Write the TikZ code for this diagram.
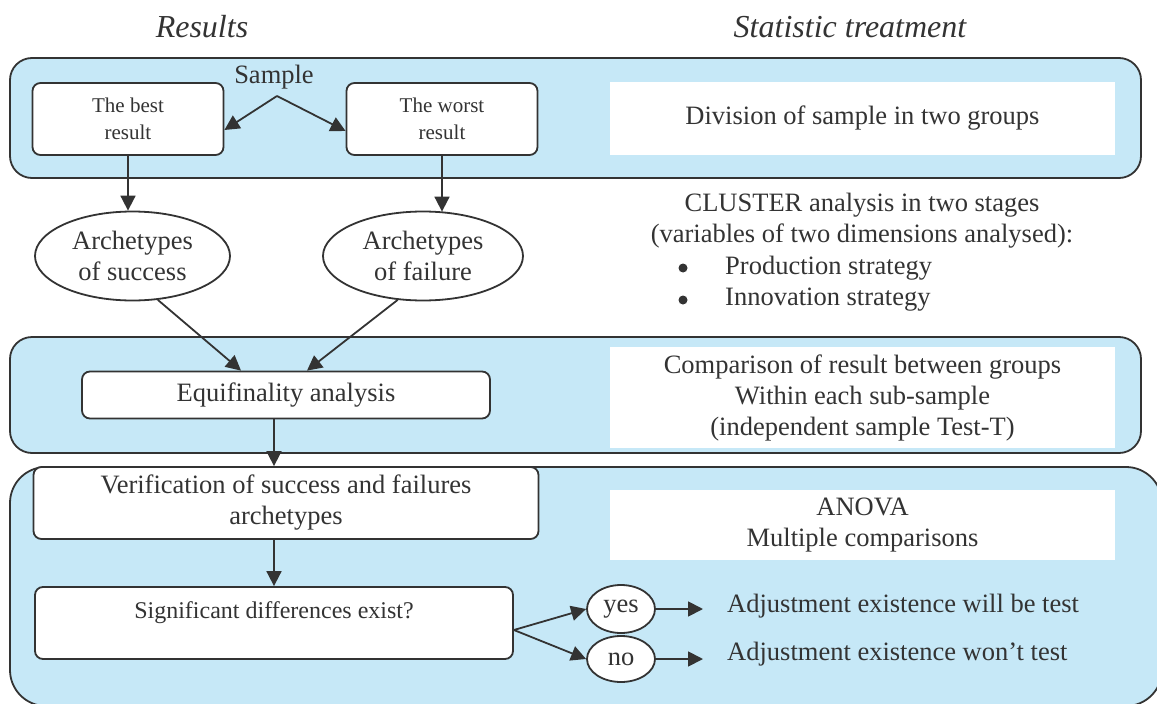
\documentclass[tikz,border=0pt]{standalone}
\usepackage{fontspec}
\setmainfont{Liberation Serif}
\usetikzlibrary{arrows.meta,shapes.geometric}
\definecolor{panelblue}{HTML}{C6E8F7}
\definecolor{ink}{HTML}{333333}
\begin{document}
\begin{tikzpicture}[x=1pt,y=-1pt,
  panel/.style={draw=ink, line width=1.8pt, fill=panelblue, rounded corners=22pt},
  rbox/.style={draw=ink, line width=1.8pt, fill=white, rounded corners=8pt,
    inner sep=0pt, text=ink, align=center},
  wbox/.style={fill=white, inner sep=0pt, text=ink, align=center},
  oval/.style={draw=ink, line width=1.8pt, fill=white, ellipse, inner sep=0pt,
    text=ink, align=center},
  conn/.style={draw=ink, line width=1.8pt, -{Triangle[length=15pt,width=15pt]}},
  big/.style={font=\fontsize{26.5}{31}\selectfont},
  mid/.style={font=\fontsize{24}{30}\selectfont},
  small/.style={font=\fontsize{21}{27}\selectfont},
  head/.style={text=ink, font=\fontsize{32}{36}\selectfont\itshape},
  txt/.style={text=ink, inner sep=0pt, align=center, big},
  dot/.style={circle, fill=ink, inner sep=0pt, minimum size=9pt},
]
\useasboundingbox (0,0) rectangle (1157,704);
\clip (0,0) rectangle (1157,704);

% column headings
\node[head] (hres) at (202,27) {Results};
\node[head] (hstat) at (850,27) {Statistic treatment};

% background bands
\path[panel] (10,58) rectangle (1141,178);
\path[panel] (10,337) rectangle (1141,453);
\path[panel, rounded corners=36pt] (10,467) rectangle (1162,706);

% first band: splitting the sample
\node[rbox, small, minimum width=191pt, minimum height=72pt] (best) at (128,119) {The best\\result};
\node[rbox, small, minimum width=191pt, minimum height=72pt] (worst) at (442,119) {The worst\\result};
\node[txt] (sample) at (274,77) {Sample};
\coordinate (apex) at (277,96);
\draw[conn] (apex) -- ([yshift=-11pt]best.east);
\draw[conn] (apex) -- ([yshift=-12pt]worst.west);
\node[wbox, big, minimum width=505pt, minimum height=73pt] (division) at (862.5,118.5) {Division of sample in two groups};

% archetypes
\node[oval, big, minimum width=195pt, minimum height=89pt] (success) at (132.5,256) {Archetypes\\of success};
\node[oval, big, minimum width=200pt, minimum height=89pt] (failure) at (423,256) {Archetypes\\of failure};
\draw[conn] (best.south) -- (best.south |- success.north);
\draw[conn] (worst.south) -- ([yshift=-1pt]worst.south |- failure.north);

% cluster analysis description
\node[txt] (cluster) at (862,221) {CLUSTER analysis in two stages\\(variables of two dimensions analysed):};
\node[dot] (bul1) at (683,268) {};
\node[dot] (bul2) at (683,300) {};
\node[txt, anchor=west] (prod) at (725,268) {Production strategy};
\node[txt, anchor=west] (innov) at (725,300) {Innovation strategy};

% second band: equifinality
\node[rbox, big, minimum width=408pt, minimum height=47pt] (equi) at (286,395) {Equifinality analysis};
\draw[conn] (success.-60) -- ([xshift=-45pt]equi.north);
\draw[conn] (failure.-120) -- ([xshift=21pt]equi.north);
\node[wbox, big, minimum width=505pt, minimum height=101pt] (compar) at (862.5,397.5) {Comparison of result between groups\\Within each sub-sample\\(independent sample Test-T)};

% third band: verification
\node[rbox, big, minimum width=505pt, minimum height=72pt] (verif) at (286,503) {Verification of success and failures\\archetypes};
\draw[conn] ([xshift=-12pt]equi.south) -- ([xshift=-12pt]verif.north);
\node[wbox, big, minimum width=505pt, minimum height=70pt] (anova) at (862.5,525) {ANOVA\\Multiple comparisons};

\node[rbox, minimum width=478pt, minimum height=72pt] (signif) at (274,623) {};
\node[txt, mid] (signiftxt) at (274,613) {Significant differences exist?};
\draw[conn] (verif.south -| signif.north) -- (signif.north);

\node[oval, big, minimum width=68pt, minimum height=48pt] (yes) at (621,609) {yes};
\node[oval, big, minimum width=68pt, minimum height=46pt] (no) at (621,659) {no};
\coordinate (split) at ([yshift=-7pt]signif.east);
\draw[conn] (split) -- (yes.west);
\draw[conn] (split) -- (no.west);

\coordinate (yesend) at (703,609);
\coordinate (noend) at (703,659);
\draw[conn] (yes.east) -- (yesend);
\draw[conn] (no.east) -- (noend);
\node[txt, anchor=west] (adjyes) at (727,606) {Adjustment existence will be test};
\node[txt, anchor=west] (adjno) at (727,654) {Adjustment existence won’t test};
\end{tikzpicture}
\end{document}
